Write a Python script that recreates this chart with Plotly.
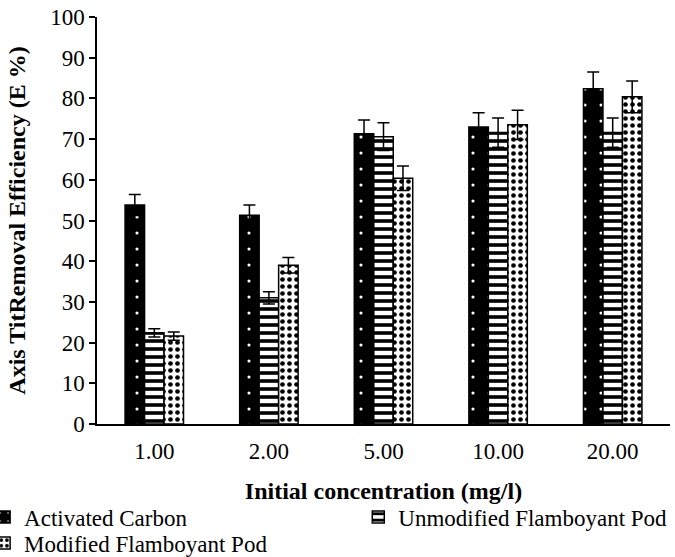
import plotly.graph_objects as go

# Initial concentration groups (mg/l)
concentrations = ["1.00", "2.00", "5.00", "10.00", "20.00"]

# Removal efficiency (E %) and standard deviations for each adsorbent
activated_carbon = [53.8, 51.3, 71.3, 73.0, 82.4]
activated_carbon_err = [2.6, 2.5, 3.4, 3.5, 4.1]

unmodified_pod = [22.4, 31.0, 70.6, 71.6, 71.6]
unmodified_pod_err = [1.0, 1.5, 3.4, 3.6, 3.6]

modified_pod = [21.6, 39.0, 60.4, 73.5, 80.4]
modified_pod_err = [1.0, 1.9, 3.0, 3.6, 3.9]

y_ticks = list(range(0, 101, 10))

FONT = "Liberation Serif, Times New Roman, serif"


def error_style(values):
    return dict(type="data", array=values, visible=True,
                color="black", thickness=1.5, width=6)


fig = go.Figure()

fig.add_trace(go.Bar(
    name="Activated Carbon", x=concentrations, y=activated_carbon,
    error_y=error_style(activated_carbon_err),
    marker=dict(color="black", line=dict(color="black", width=1.5),
                pattern=dict(shape=".", bgcolor="black", fgcolor="white",
                             size=16, solidity=0.03, fillmode="replace")),
    legend="legend",
))

fig.add_trace(go.Bar(
    name="Unmodified Flamboyant Pod", x=concentrations, y=unmodified_pod,
    error_y=error_style(unmodified_pod_err),
    marker=dict(color="white", line=dict(color="black", width=1.5),
                pattern=dict(shape="-", bgcolor="white", fgcolor="black",
                             size=8, solidity=0.45, fillmode="replace")),
    legend="legend2",
))

fig.add_trace(go.Bar(
    name="Modified Flamboyant Pod", x=concentrations, y=modified_pod,
    error_y=error_style(modified_pod_err),
    marker=dict(color="white", line=dict(color="black", width=1.5),
                pattern=dict(shape=".", bgcolor="white", fgcolor="black",
                             size=7, solidity=0.35, fillmode="replace")),
    legend="legend3",
))

legend_common = dict(
    orientation="v", xanchor="left", yanchor="middle",
    font=dict(family=FONT, size=23, color="black"),
    bgcolor="rgba(0,0,0,0)", itemwidth=30,
    itemclick=False, itemdoubleclick=False,
)

fig.update_layout(
    width=675, height=557,
    margin=dict(l=97, r=5, t=17, b=133, autoexpand=False),
    paper_bgcolor="white", plot_bgcolor="white",
    barmode="group", bargap=0.49, bargroupgap=0,
    font=dict(family=FONT, size=23, color="black"),
    showlegend=True,
    legend=dict(x=-0.197, y=-0.2285, **legend_common),
    legend2=dict(x=0.456, y=-0.2285, **legend_common),
    legend3=dict(x=-0.197, y=-0.2924, **legend_common),
    xaxis=dict(
        showline=True, linecolor="black", linewidth=1.5,
        ticks="", showgrid=False, automargin=False,
        ticklabelstandoff=6,
        tickfont=dict(family=FONT, size=23),
        title=dict(text="<b>Initial concentration (mg/l)</b>",
                   font=dict(family=FONT, size=24), standoff=19),
    ),
    yaxis=dict(
        range=[0, 100], tickvals=y_ticks,
        showline=True, linecolor="black", linewidth=1.5,
        ticks="outside", ticklen=6, tickwidth=1.5, tickcolor="black",
        showgrid=False, zeroline=False, automargin=False,
        tickfont=dict(family=FONT, size=23),
        title=dict(text="<b>Axis TitRemoval Efficiency (E %)</b>",
                   font=dict(family=FONT, size=24), standoff=18),
    ),
)

fig.write_html("out.html")
